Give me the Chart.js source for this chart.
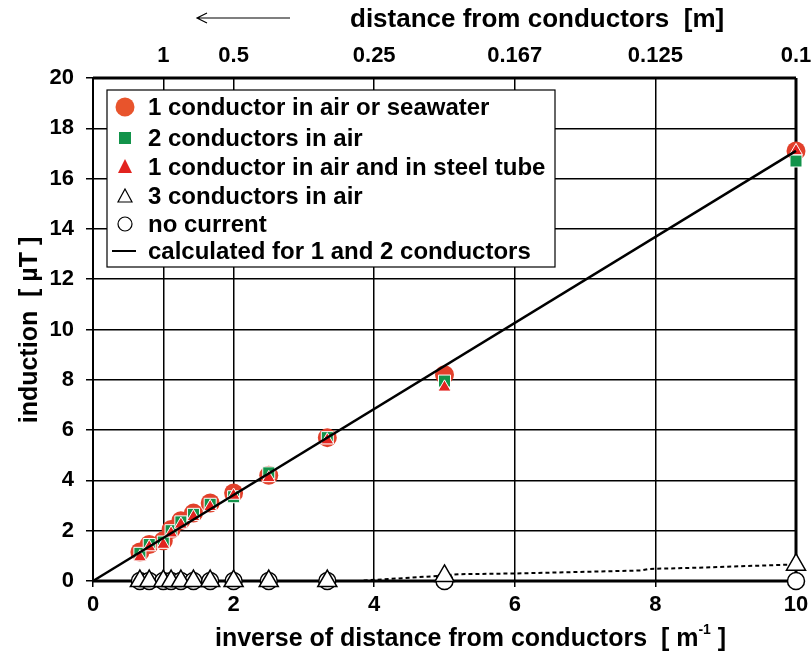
<!DOCTYPE html>
<html>
<head>
<meta charset="utf-8">
<script src="https://cdn.jsdelivr.net/npm/chart.js@4.4.0/dist/chart.umd.min.js"></script>
<style>
  body { margin: 0; background: #fff; }
  #wrap { width: 811px; height: 659px; }
</style>
</head>
<body>
<div id="wrap"><canvas id="chart" width="811" height="659"></canvas></div>
<script>
// inverse distance 1/d  [1/m]
var invDist = [0.667, 0.8, 1.0, 1.111, 1.25, 1.429, 1.667, 2.0, 2.5, 3.333, 5, 10];
// measured induction [uT]
var oneCondAir  = [1.15, 1.45, 1.6, 2.05, 2.4, 2.7, 3.1, 3.5, 4.2, 5.7, 8.2, 17.1];
var twoCondAir  = [1.1, 1.45, 1.55, 2.0, 2.35, 2.65, 3.05, 3.35, 4.3, 5.7, 7.95, 16.7];
var oneCondTube = [0.95, 1.35, 1.45, 1.9, 2.25, 2.55, 2.95, 3.4, 4.1, 5.6, 7.7, 17.1];
var threeCondAir = [0, 0, 0, 0, 0, 0, 0, 0, 0, 0, 0.2, 0.65];
var noCurrent   = [0, 0, 0, 0, 0, 0, 0, 0, 0, 0, 0, 0];
// calculated line
var calcX = [0, 10];
var calcY = [0, 17.1];
// dotted trace (3 conductors)
var dottedX = [3.85, 4.5, 4.9, 5.2, 6.0, 7.8, 7.9, 8.5, 10];
var dottedY = [0.02, 0.13, 0.2, 0.27, 0.3, 0.42, 0.48, 0.52, 0.66];
// axis ticks
var bottomTicks = [0, 1, 2, 4, 6, 8, 10];
var topTicks = [1, 2, 4, 6, 8, 10];
var topLabels = ['1', '0.5', '0.25', '0.167', '0.125', '0.1'];

var FONT = "'Liberation Sans', Arial, sans-serif";
var RED_C = '#e2402b';
var GREEN = '#12934a';
var RED_T = '#e2231f';

function pts(xs, ys) {
    return xs.map(function (x, i) { return {x: x, y: ys[i]}; });
}

// keep the plot area fixed, labels may hang over the edge
function noSidePadding(scale) {
    scale.paddingLeft = 0;
    scale.paddingRight = 0;
}

// frame round the plot area, drawn under the markers
var framePlugin = {
    id: 'frame',
    beforeDatasetsDraw: function (chart) {
        var a = chart.chartArea, ctx = chart.ctx;
        ctx.save();
        ctx.strokeStyle = '#000';
        ctx.lineWidth = 3;
        ctx.beginPath();
        ctx.moveTo(a.left, a.bottom); ctx.lineTo(a.right, a.bottom);
        ctx.moveTo(a.right, a.bottom); ctx.lineTo(a.right, a.top);
        ctx.moveTo(a.right, a.top); ctx.lineTo(a.left, a.top);
        ctx.stroke();
        ctx.lineWidth = 2;
        ctx.beginPath();
        ctx.moveTo(a.left, a.top); ctx.lineTo(a.left, a.bottom);
        ctx.stroke();
        ctx.restore();
    }
};

// axis titles
var titlePlugin = {
    id: 'titles',
    afterDraw: function (chart) {
        var ctx = chart.ctx;
        ctx.save();
        ctx.fillStyle = '#000';
        ctx.strokeStyle = '#000';
        ctx.textBaseline = 'alphabetic';
        ctx.textAlign = 'left';

        // top title with arrow
        ctx.font = 'bold 26px ' + FONT;
        ctx.fillText('distance from conductors  [m]', 350, 27);
        ctx.lineWidth = 1.2;
        ctx.beginPath();
        ctx.moveTo(290, 18); ctx.lineTo(197, 18);
        ctx.moveTo(207, 13); ctx.lineTo(197, 18); ctx.lineTo(207, 23);
        ctx.stroke();

        // bottom title with superscript
        var t1 = 'inverse of distance from conductors  [ m';
        ctx.font = 'bold 25px ' + FONT;
        var x = 215;
        ctx.fillText(t1, x, 646);
        x += ctx.measureText(t1).width;
        ctx.font = 'bold 14px ' + FONT;
        ctx.fillText('-1', x, 634);
        x += ctx.measureText('-1').width;
        ctx.font = 'bold 25px ' + FONT;
        ctx.fillText(' ]', x, 646);

        // y title
        ctx.translate(30, 330);
        ctx.rotate(-Math.PI / 2);
        ctx.textAlign = 'center';
        ctx.textBaseline = 'middle';
        ctx.fillText('induction  [ \u00B5T ]', 0, 0);
        ctx.restore();
    }
};

// legend box inside the plot
var legendPlugin = {
    id: 'boxLegend',
    afterDraw: function (chart) {
        var ctx = chart.ctx;
        var rows = [107, 138, 167, 196, 224, 251];
        var mx = 125;
        ctx.save();
        ctx.fillStyle = '#fff';
        ctx.fillRect(107, 90, 448, 177);
        ctx.strokeStyle = '#000';
        ctx.lineWidth = 1.2;
        ctx.strokeRect(107, 90, 448, 177);

        // markers
        ctx.fillStyle = '#e8542c';
        ctx.beginPath(); ctx.arc(mx, rows[0], 9.5, 0, Math.PI * 2); ctx.fill();
        ctx.fillStyle = GREEN;
        ctx.fillRect(mx - 6, rows[1] - 6, 12, 12);
        ctx.fillStyle = RED_T;
        ctx.beginPath();
        ctx.moveTo(mx, rows[2] - 8); ctx.lineTo(mx + 7, rows[2] + 6); ctx.lineTo(mx - 7, rows[2] + 6);
        ctx.closePath(); ctx.fill();
        ctx.strokeStyle = '#000';
        ctx.lineWidth = 1.2;
        ctx.beginPath();
        ctx.moveTo(mx, rows[3] - 7); ctx.lineTo(mx + 7, rows[3] + 6); ctx.lineTo(mx - 7, rows[3] + 6);
        ctx.closePath(); ctx.stroke();
        ctx.beginPath(); ctx.arc(mx, rows[4], 7, 0, Math.PI * 2); ctx.stroke();
        ctx.lineWidth = 2;
        ctx.beginPath(); ctx.moveTo(112, rows[5]); ctx.lineTo(136, rows[5]); ctx.stroke();

        // labels
        var labels = chart.data.datasets.filter(function (d) { return d.legendRow !== undefined; })
            .sort(function (a, b) { return a.legendRow - b.legendRow; });
        ctx.fillStyle = '#000';
        ctx.font = 'bold 24px ' + FONT;
        ctx.textAlign = 'left';
        ctx.textBaseline = 'middle';
        labels.forEach(function (d) {
            ctx.fillText(d.label, 148, rows[d.legendRow] + 1);
        });
        ctx.restore();
    }
};

var ctx = document.getElementById('chart').getContext('2d');
var myChart = new Chart(ctx, {
    type: 'scatter',
    data: {
        datasets: [{
            label: 'calculated for 1 and 2 conductors',
            legendRow: 5,
            type: 'line',
            data: pts(calcX, calcY),
            borderColor: '#000',
            borderWidth: 2.5,
            pointRadius: 0,
            fill: false
        }, {
            label: '1 conductor in air and in steel tube',
            legendRow: 2,
            data: pts(invDist, oneCondTube),
            pointStyle: 'triangle',
            pointRadius: 7.5,
            backgroundColor: RED_T,
            borderColor: '#fff',
            borderWidth: 1
        }, {
            label: '2 conductors in air',
            legendRow: 1,
            data: pts(invDist, twoCondAir),
            pointStyle: 'rect',
            pointRadius: 8.5,
            backgroundColor: GREEN,
            borderColor: '#fff',
            borderWidth: 1
        }, {
            label: '1 conductor in air or seawater',
            legendRow: 0,
            data: pts(invDist, oneCondAir),
            pointStyle: 'circle',
            pointRadius: 9.5,
            backgroundColor: RED_C,
            borderWidth: 0
        }, {
            label: '3 conductors in air',
            legendRow: 3,
            data: pts(invDist, threeCondAir),
            pointStyle: 'triangle',
            pointRadius: 11,
            backgroundColor: '#fff',
            borderColor: '#000',
            borderWidth: 1.5
        }, {
            label: 'no current',
            legendRow: 4,
            data: pts(invDist, noCurrent),
            pointStyle: 'circle',
            pointRadius: 8.5,
            backgroundColor: '#fff',
            borderColor: '#000',
            borderWidth: 1.5
        }, {
            label: 'trend 3 conductors',
            type: 'line',
            data: pts(dottedX, dottedY),
            borderColor: '#000',
            borderWidth: 2,
            borderDash: [4, 3],
            pointRadius: 0,
            fill: false
        }]
    },
    options: {
        responsive: false,
        animation: false,
        clip: false,
        layout: { padding: { left: 0, right: 15, top: 0, bottom: 0 } },
        plugins: {
            legend: { display: false },
            tooltip: { enabled: false }
        },
        scales: {
            x: {
                type: 'linear',
                position: 'bottom',
                min: 0,
                max: 10,
                afterBuildTicks: function (scale) {
                    scale.ticks = bottomTicks.map(function (v) { return {value: v}; });
                },
                afterFit: function (scale) { scale.height = 78; noSidePadding(scale); },
                ticks: {
                    autoSkip: false,
                    maxRotation: 0,
                    color: '#000',
                    padding: 5,
                    font: { family: FONT, size: 22, weight: 'bold' },
                    callback: function (v) { return v === 1 ? '' : v; }
                },
                grid: { color: '#000', lineWidth: 1.5, tickLength: 6, tickColor: '#000' },
                border: { display: false }
            },
            x2: {
                type: 'linear',
                position: 'top',
                min: 0,
                max: 10,
                afterBuildTicks: function (scale) {
                    scale.ticks = topTicks.map(function (v) { return {value: v}; });
                },
                afterFit: function (scale) { scale.height = 78; noSidePadding(scale); },
                ticks: {
                    autoSkip: false,
                    maxRotation: 0,
                    color: '#000',
                    padding: 9,
                    font: { family: FONT, size: 22, weight: 'bold' },
                    callback: function (v, i) { return topLabels[i]; }
                },
                grid: { display: false, drawTicks: false },
                border: { display: false }
            },
            y: {
                min: 0,
                max: 20,
                afterFit: function (scale) { scale.width = 93; },
                ticks: {
                    stepSize: 2,
                    color: '#000',
                    padding: 12,
                    font: { family: FONT, size: 22, weight: 'bold' }
                },
                grid: { color: '#000', lineWidth: 1.5, tickLength: 7, tickColor: '#000' },
                border: { display: false }
            }
        }
    },
    plugins: [framePlugin, titlePlugin, legendPlugin]
});
</script>
</body>
</html>
